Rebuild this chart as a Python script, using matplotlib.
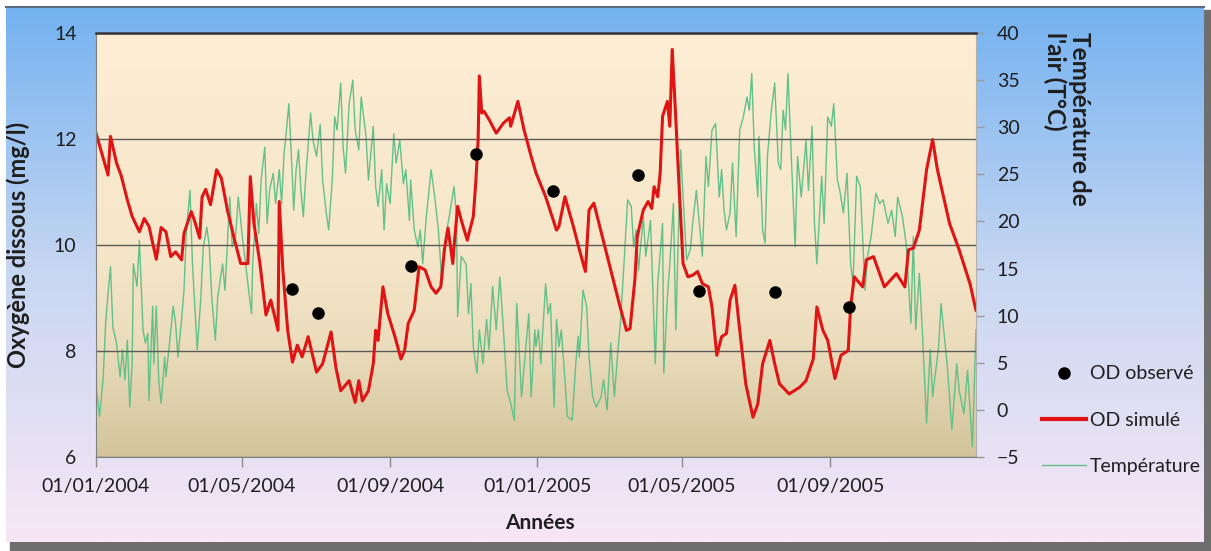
import numpy as np
import matplotlib
matplotlib.use("Agg")
import matplotlib.pyplot as plt
import matplotlib.dates as mdates
from matplotlib.lines import Line2D
from matplotlib.patches import Rectangle

plt.rcParams["font.family"] = ["Lato", "DejaVu Sans"]

START = np.datetime64("2004-01-01")

# Température de l'air : jours depuis le 01/01/2004 et valeurs (°C)
temp_jours = [
    0, 3, 6, 8, 10, 12, 14, 17, 20, 22, 24, 26, 28, 30, 31, 34, 36, 39, 41, 43,
    44, 47, 48, 50, 52, 54, 57, 58, 61, 64, 66, 68, 71, 73, 75, 78, 80, 82, 84, 87,
    89, 92, 94, 96, 99, 101, 105, 107, 111, 113, 116, 118, 122, 126, 129, 130, 133, 135, 137, 140,
    142, 144, 147, 149, 152, 154, 156, 158, 160, 163, 164, 166, 168, 170, 172, 174, 178, 180, 183,
    186, 188, 191, 193, 196, 198, 200, 203, 205, 207, 210, 213, 215, 218, 220, 224, 226, 230, 232, 234,
    237, 239, 241, 244, 247, 249, 252, 255, 257, 260, 261, 264, 267, 269, 271, 274, 278, 281, 284, 287,
    290, 293, 297, 299, 300, 303, 307, 309, 311, 313, 316, 318, 321, 324, 326, 329, 332, 335, 338, 341,
    344, 347, 349, 353, 359, 361, 364,
    365, 367, 369, 373, 375, 377, 380, 382, 384, 386, 389, 391, 395, 398, 400, 401, 404, 407, 409, 412,
    415, 419, 421, 424, 427, 430, 433, 435, 438, 441, 444, 446, 448, 450, 454, 456, 460, 464, 466, 470,
    471, 474, 476, 479, 481, 485, 487, 490, 493, 495, 498, 501, 503, 506, 508, 511, 514, 517, 519, 521,
    523, 526, 528, 531, 534, 537, 540, 542, 544, 546, 549,
    550, 553, 555, 557, 560, 563, 566, 568, 570, 572, 574, 577, 580, 582, 585, 589, 591, 594, 596, 598,
    602, 604, 607, 610, 612, 615, 617, 620, 623, 626, 628, 631, 634, 638, 640, 643, 647, 650, 653, 657,
    660, 663, 665, 669, 672, 676, 678, 680, 683, 686, 689, 692, 694, 699, 701, 706, 710, 714, 716, 720,
    723, 727, 730,
]
temp_valeurs = [
    2.5, -0.7, 3.5, 9.2, 12.4, 15.2, 8.8, 7.1, 3.5, 6.4, 3.2, 7.4, 0.3, 4.9, 15.5, 13.1, 18.0, 8.5, 7.1, 8.1,
    1.0, 11.0, 4.9, 11.0, 3.2, 0.7, 5.6, 3.5, 7.1, 11.0, 9.2, 5.6, 9.6, 12.7, 19.1, 23.3, 15.5, 11.0, 6.4, 12.0,
    17.3, 19.4, 17.3, 12.0, 7.4, 12.0, 15.5, 12.7, 22.6, 17.3, 18.7, 22.6, 17.7, 13.4, 10.2, 15.5, 21.9, 18.7, 24.4, 27.9,
    19.8, 23.3, 25.1, 21.9, 25.5, 21.9, 27.2, 29.7, 32.5, 24.4, 21.2, 25.5, 27.6, 23.3, 20.5, 24.8, 31.5, 28.6, 26.9,
    30.3, 24.4, 20.9, 19.1, 24.4, 31.1, 29.7, 34.7, 27.9, 25.1, 32.5, 35.0, 29.7, 27.6, 33.2, 29.0, 24.4, 30.1, 23.7, 21.6,
    25.5, 19.1, 24.0, 21.9, 29.3, 26.2, 28.6, 24.0, 25.5, 20.1, 24.4, 19.1, 17.3, 19.1, 15.5, 20.5, 25.5, 22.6, 19.1, 13.4,
    18.4, 20.5, 23.7, 20.5, 9.9, 16.3, 15.5, 10.2, 13.4, 6.7, 3.9, 8.5, 4.9, 9.6, 6.4, 13.1, 8.5, 14.1, 8.5, 2.1,
    0.7, -1.1, 11.3, 1.4, 10.2, 1.4, 8.5,
    6.7, 8.5, 4.9, 13.4, 10.2, 11.3, 0.3, 9.6, 6.7, 8.5, 3.2, -0.7, -1.1, 4.9, 7.8, 5.6, 12.7, 11.0, 5.6, 1.4,
    0.3, 1.4, 3.2, 0.0, 7.1, 1.4, 6.4, 9.2, 15.5, 22.3, 21.6, 17.3, 19.1, 14.8, 20.5, 16.3, 20.1, 4.9, 13.4, 19.8,
    3.9, 12.0, 15.5, 21.9, 8.5, 27.6, 22.6, 15.9, 17.0, 19.8, 23.3, 19.1, 16.3, 26.9, 23.7, 29.7, 30.4, 22.6, 25.5, 21.2,
    19.1, 20.9, 26.2, 18.4, 29.7, 31.1, 33.2, 31.8, 35.7, 27.9, 22.6,
    29.0, 19.1, 17.7, 26.9, 31.5, 34.7, 26.2, 25.5, 31.8, 29.7, 35.7, 26.2, 17.3, 26.9, 22.6, 28.6, 23.3, 30.1, 19.8, 15.5,
    24.8, 19.8, 31.1, 30.1, 32.5, 24.4, 23.3, 20.9, 25.1, 15.5, 13.4, 24.8, 23.7, 12.7, 16.3, 18.4, 23.0, 21.9, 22.3, 19.8,
    21.2, 18.4, 22.6, 20.5, 17.7, 9.2, 18.4, 8.5, 14.5, 7.1, -1.4, 6.4, 1.4, 6.7, 11.3, 4.9, -2.1, 4.9, 2.1, -0.4,
    4.2, -3.9, 8.5,
]

# OD simulé : jours depuis le 01/01/2004 et valeurs (mg/l)
od_sim_jours = [
    0, 10, 12, 17, 21, 26, 30, 36, 40, 44, 50, 54, 58, 62, 66, 71, 73, 79, 82, 86,
    88, 91, 95, 100, 104, 109, 115, 120, 126, 128, 131, 136, 141, 145, 151, 152, 155, 159, 163, 167,
    171, 176, 183,
    188, 195, 199, 203, 210, 215, 218, 221, 226, 230, 232, 234, 238, 242, 248, 253, 256, 259, 264, 268,
    273, 278, 282, 286, 289, 292, 296, 297, 300, 303, 308, 313, 315, 317, 318, 320, 322, 326, 332, 338,
    343, 344, 350, 355, 361,
    365, 373, 382, 384, 389, 396, 401, 406, 409, 413, 420, 427, 434, 440, 443, 447, 449, 454, 458, 461,
    463, 466, 468, 470, 474, 476, 478, 481, 483, 487, 491, 495, 499, 503, 508, 511, 515, 519, 523, 526,
    530, 534, 539, 545, 549,
    553, 559, 563, 567, 575, 584, 589, 595, 598, 603, 607, 613, 618, 624, 626, 629, 636, 639, 645, 654,
    664, 671, 674, 678, 683, 689, 694, 698, 708, 716, 725, 730,
]
od_sim_valeurs = [
    12.11, 11.32, 12.05, 11.55, 11.3, 10.85, 10.54, 10.25, 10.5, 10.35, 9.73, 10.33, 10.25, 9.78, 9.87, 9.72, 10.22, 10.63, 10.44, 10.13,
    10.91, 11.05, 10.76, 11.42, 11.26, 10.66, 10.09, 9.65, 9.65, 11.29, 10.41, 9.65, 8.68, 8.96, 8.39, 10.82, 9.53, 8.39, 7.79, 8.11,
    7.89, 8.27, 7.6,
    7.76, 8.36, 7.69, 7.25, 7.44, 7.03, 7.44, 7.06, 7.25, 7.76, 8.39, 8.2, 9.21, 8.71, 8.27, 7.85, 8.01, 8.52, 8.77, 9.59,
    9.53, 9.21, 9.09, 9.21, 9.91, 10.32, 9.65, 9.97, 10.73, 10.47, 10.09, 10.54, 11.17, 11.99, 13.19, 12.49, 12.52, 12.37, 12.11, 12.3,
    12.4, 12.24, 12.71, 12.18, 11.67,
    11.36, 10.91, 10.28, 10.35, 10.91, 10.35, 9.91, 9.5, 10.66, 10.79, 10.16, 9.53, 8.9, 8.39, 8.42, 9.34, 10.16, 10.66, 10.82, 10.69,
    11.1, 10.91, 11.36, 12.43, 12.71, 12.24, 13.69, 12.37, 11.42, 9.65, 9.4, 9.43, 9.5, 9.27, 9.21, 8.83, 7.92, 8.27, 8.33, 8.96,
    9.24, 8.39, 7.38, 6.75, 7.0,
    7.76, 8.2, 7.76, 7.38, 7.19, 7.32, 7.44, 7.85, 8.83, 8.39, 8.2, 7.48, 7.92, 8.01, 8.83, 9.4, 9.21, 9.72, 9.78, 9.21,
    9.46, 9.21, 9.91, 9.94, 10.28, 11.42, 11.99, 11.42, 10.41, 9.91, 9.27, 8.77,
]

# OD observé
od_obs_dates = [
    "2004-06-12", "2004-07-03", "2004-09-18", "2004-11-11", "2005-01-14",
    "2005-03-26", "2005-05-15", "2005-07-17", "2005-09-17",
]
od_obs_valeurs = [9.17, 8.72, 9.6, 11.72, 11.02, 11.32, 9.13, 9.11, 8.83]


def to_dates(jours):
    return START + np.array(jours, dtype="timedelta64[D]")


def gradient(stops, n=256):
    """Vertical colour gradient, first stop at the top."""
    pos = [s[0] for s in stops]
    cols = np.array([s[1] for s in stops]) / 255.0
    t = np.linspace(0, 1, n)
    rgb = np.stack([np.interp(t, pos, cols[:, i]) for i in range(3)], axis=1)
    return rgb[:, None, :]


W, H = 1211, 551
TXT = "#1e1e1e"

fig = plt.figure(figsize=(W / 100, H / 100), dpi=100)
fig.patch.set_facecolor("white")

# fond de la zone de graphique (dégradé bleu -> rose) avec ombre
bg = fig.add_axes([0, 0, 1, 1], zorder=-10)
bg.add_patch(Rectangle((10, 10), W - 10, H - 10, color="#6e6e6e", zorder=0))
bg.imshow(
    gradient([(0, (116, 178, 240)), (0.5, (200, 215, 242)), (1, (248, 231, 246))]),
    extent=[6, W - 7, H - 9, 6], aspect="auto", zorder=1,
)
bg.plot([6, W - 7], [6.5, 6.5], color="#5b6b82", lw=1.5, zorder=2)
bg.set_xlim(0, W)
bg.set_ylim(H, 0)
bg.axis("off")

# zone de traçage
pos = [96 / W, 1 - 457 / H, 880 / W, 424 / H]
pa = fig.add_axes(pos, zorder=0)
pa.imshow(
    gradient([(0, (252, 237, 212)), (0.5, (246, 231, 202)), (0.75, (234, 220, 187)), (1, (211, 196, 155))]),
    extent=[0, 1, 0, 1], aspect="auto",
)
pa.set_xlim(0, 1)
pa.set_ylim(0, 1)
pa.axis("off")

ax = fig.add_axes(pos)
ax2 = ax.twinx()
ax2.set_zorder(1)
ax.set_zorder(2)
ax.patch.set_visible(False)
ax2.patch.set_visible(False)

ax2.plot(to_dates(temp_jours), temp_valeurs, color="#62c088", lw=1.0)
ax.plot(to_dates(od_sim_jours), od_sim_valeurs, color="#e01414", lw=2.2)
ax.plot(np.array(od_obs_dates, dtype="datetime64[D]"), od_obs_valeurs,
        ls="none", marker="o", color="black", ms=8)

ax.set_xlim(START, START + np.timedelta64(730, "D"))
ax.set_ylim(6, 14)
ax.set_yticks([6, 8, 10, 12, 14])
ax2.set_ylim(-5, 40)
ax2.set_yticks(range(-5, 45, 5))
ax.grid(axis="y", color="#5a5a5a", lw=1)
ax.set_axisbelow(True)

ax.xaxis.set_major_locator(mdates.MonthLocator(bymonth=[1, 5, 9]))
ax.xaxis.set_major_formatter(mdates.DateFormatter("%d/%m/%Y"))

ax.tick_params(axis="y", length=0, pad=14, labelsize=14, labelcolor=TXT)
ax.tick_params(axis="x", length=7, width=1, color="#8a8a8a", pad=8, labelsize=14, labelcolor=TXT)
ax2.tick_params(axis="y", length=6, width=1, color="#9a9a9a", pad=9, labelsize=14, labelcolor=TXT)

for side in ["top", "right", "left", "bottom"]:
    ax2.spines[side].set_visible(False)
ax.spines["top"].set_color("#353535")
ax.spines["top"].set_linewidth(1.8)
ax.spines["left"].set_color("#808080")
ax.spines["bottom"].set_color("#808080")
ax.spines["right"].set_color("#b0b0b0")
ax.spines["right"].set_linewidth(0.8)

ax.set_ylabel("Oxygène dissous (mg/l)", fontsize=17, fontweight="bold", color=TXT)
ax.yaxis.set_label_coords(-0.075, 0.5)
ax.set_xlabel("Années", fontsize=15, fontweight="bold", color=TXT)
ax.xaxis.set_label_coords(0.5045, -0.132)

fig.text(1067 / W, 1 - 32 / H, "Température de\nl'air (T°C)", rotation=-90,
         ha="center", va="top", multialignment="left", linespacing=1.1,
         fontsize=17.5, fontweight="bold", color=TXT)

handles = [
    Line2D([], [], ls="none", marker="o", color="black", ms=8),
    Line2D([], [], color="#e01414", lw=3),
    Line2D([], [], color="#62c088", lw=1.0),
]
fig.legend(handles, ["OD observé", "OD simulé", "Température"],
           loc="center left", bbox_to_anchor=(1024 / W, 1 - 420 / H),
           frameon=False, fontsize=14, handlelength=2.3, handletextpad=0.2,
           labelspacing=1.5, labelcolor=TXT)

fig.savefig("out.png", dpi=100)
plt.close(fig)
